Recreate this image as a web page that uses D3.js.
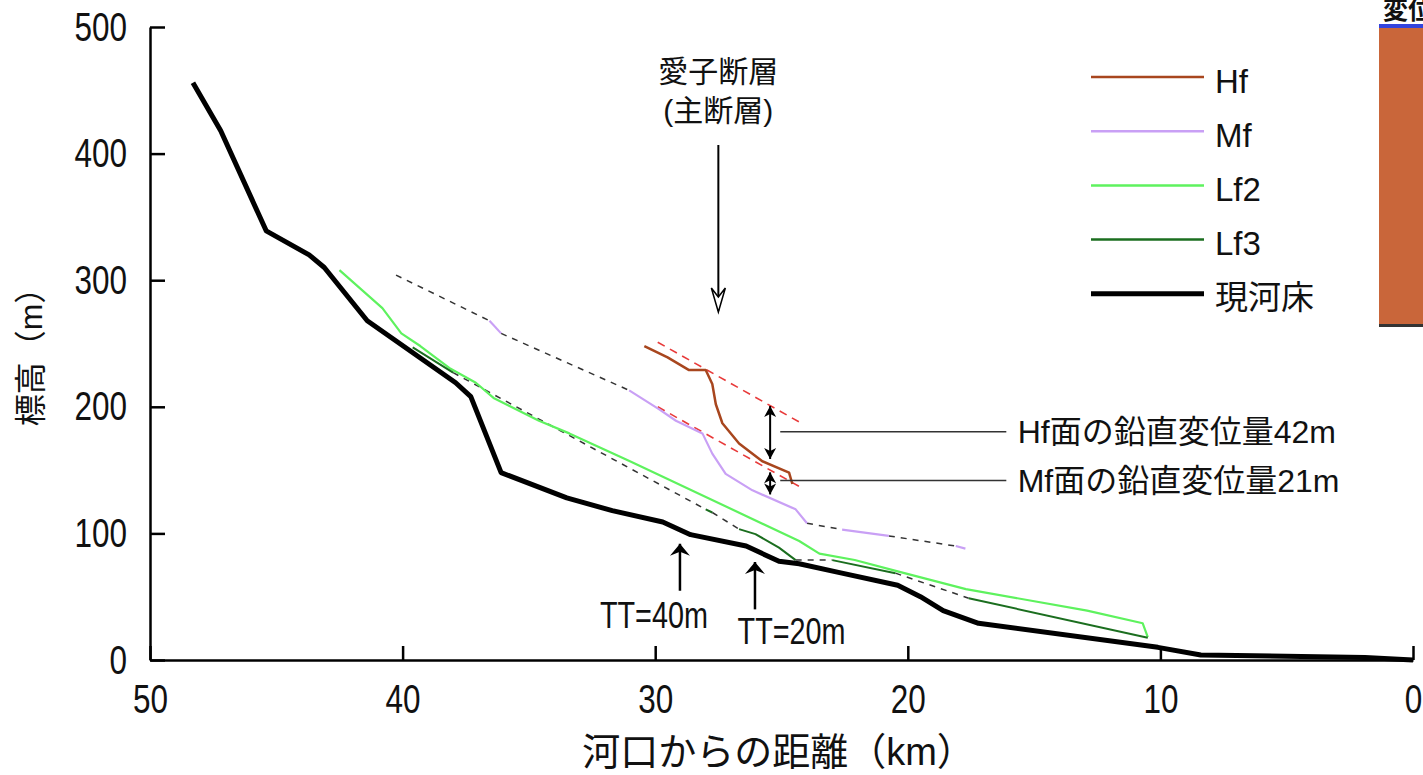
<!DOCTYPE html>
<html>
<head>
<meta charset="utf-8">
<script src="https://cdn.jsdelivr.net/npm/d3@7"></script>
<style>
  body { margin: 0; background: #fff; }
  .chart text { font-family: "Liberation Sans", "Noto Sans CJK JP", sans-serif; fill: #111; }
</style>
</head>
<body>
<div class="chart"></div>
<script>
// values: [distance from mouth (km), elevation (m)]
var riverBed = [[48.3,456],[47.2,418],[45.4,339],[43.7,320],[43.1,310],[41.4,268],[37.9,219],[37.3,208],
  [36.1,148],[33.5,128],[31.7,118],[29.7,109],[28.6,99],[26.4,90],[25.1,78],[24.3,76],[22.7,69],
  [20.4,59],[19.5,50],[18.6,39],[17.2,29],[10.1,10],[8.4,4],[1.9,2],[0,0]];

var lf2 = [[42.5,308],[40.8,278],[40.05,258],[39.3,248],[38.1,230],[37.1,219],[36.4,207],[34.6,189],
  [33.4,179],[31.0,157],[24.3,94],[23.5,84],[22.1,79],[20.4,70],[17.7,56],[12.9,39],[10.7,29],[10.5,18]];

var lf3Segments = [
  [[39.6,247],[38.0,227]],
  [[28.0,119],[27.74,116.5]],
  [[26.68,103.4],[26.03,99.4],[25.1,88.8],[24.44,78.9]],
  [[22.99,78.9],[20.49,68.6]],
  [[17.59,48.8],[10.5,17.6]]
];
var lf3Dashed = [
  [[38.0,227],[28.0,119]],
  [[27.74,116.5],[26.68,103.4]],
  [[24.44,78.9],[22.99,78.9]],
  [[20.49,68.6],[17.59,48.8]]
];

var mfSegments = [
  [[36.56,268],[36.1,258]],
  [[31.03,213],[29.84,198],[29.18,189],[28.13,179],[27.74,163],[27.21,147],[26.15,134],[24.44,119],[23.99,108]],
  [[22.6,103],[20.75,98]],
  [[18.1,90],[17.72,88]]
];
var mfDashed = [
  [[40.26,304],[36.56,268]],
  [[36.1,258],[31.03,213]],
  [[23.99,108],[22.6,103]],
  [[20.75,98],[18.1,90]]
];

var hf = [[30.43,248],[29.51,239],[28.66,229],[28.0,229],[27.74,218],[27.6,202],[27.34,187],
  [26.68,171],[25.76,157],[24.7,148],[24.57,139]];

// projected surfaces across the fault (red dashed)
var faultProjected = [
  [[29.9,251],[24.3,188]],
  [[29.9,200],[24.2,136]]
];

var xTicks = [50, 40, 30, 20, 10, 0];
var yTicks = [0, 100, 200, 300, 400, 500];

var legendLabels = ["Hf", "Mf", "Lf2", "Lf3", "現河床"];
var legendColors = ["#a8461e", "#c9a0f5", "#5ef25e", "#1b6e1f", "#000"];
var legendWidths = [2.5, 2.5, 2.5, 2.5, 5];

// chart setup
var svgWidth = 1423;
var svgHeight = 775;
var margin = { top: 27, left: 150 };
var width = 1263;
var height = 633;

var svg = d3.select(".chart").append("svg")
  .attr("width", svgWidth)
  .attr("height", svgHeight);

var defs = svg.append("defs");
defs.append("marker")
  .attr("id", "head")
  .attr("markerUnits", "userSpaceOnUse")
  .attr("viewBox", "-12 -7 14 14")
  .attr("markerWidth", 14).attr("markerHeight", 14)
  .attr("refX", 0).attr("refY", 0)
  .attr("orient", "auto-start-reverse")
  .append("path").attr("d", "M0,0 L-11,-6 L-8,0 L-11,6 Z").attr("fill", "#000");
defs.append("marker")
  .attr("id", "bighead")
  .attr("markerUnits", "userSpaceOnUse")
  .attr("viewBox", "-13 -11 15 22")
  .attr("markerWidth", 15).attr("markerHeight", 22)
  .attr("refX", 0).attr("refY", 0)
  .attr("orient", "auto")
  .append("path").attr("d", "M0,0 L-12,-10 L-8,0 L-12,10 Z").attr("fill", "#000");

var chart = svg.append("g").attr("transform", "translate(" + margin.left + "," + margin.top + ")");

var x = d3.scaleLinear().domain([50, 0]).range([0, width]);
var y = d3.scaleLinear().domain([0, 500]).range([height, 0]);

var line = d3.line().x(function(d) { return x(d[0]); }).y(function(d) { return y(d[1]); });

// right side partial panel (cut off in the source)
svg.append("text").attr("x", 1383).attr("y", 19)
  .style("font-size", "25px").style("font-weight", "bold").text("変位");
svg.append("rect").attr("x", 1379).attr("y", 28).attr("width", 44).attr("height", 298).attr("fill", "#c9663a");
svg.append("rect").attr("x", 1379).attr("y", 24).attr("width", 44).attr("height", 4).attr("fill", "#3344dd");
svg.append("rect").attr("x", 1379).attr("y", 324).attr("width", 44).attr("height", 3).attr("fill", "#333");

// axes
var bottomAxis = d3.axisBottom(x).tickValues(xTicks).tickSize(-14).tickSizeOuter(0).tickPadding(24);
var leftAxis = d3.axisLeft(y).tickValues(yTicks).tickSize(-15).tickSizeOuter(0).tickPadding(23);

var gx = chart.append("g").attr("transform", "translate(0," + height + ")").call(bottomAxis);
var gy = chart.append("g").call(leftAxis);

[gx, gy].forEach(function(g) {
  g.selectAll("path, line").attr("stroke", "#000").attr("stroke-width", 2.5);
  g.selectAll("text")
    .attr("font-family", null)
    .style("font-size", "41px")
    .attr("textLength", function(d) { return String(d).length * 17.5; })
    .attr("lengthAdjust", "spacingAndGlyphs");
});

// dashed connectors
mfDashed.concat(lf3Dashed).forEach(function(seg) {
  chart.append("path").attr("d", line(seg)).attr("fill", "none")
    .attr("stroke", "#333").attr("stroke-width", 1.5).attr("stroke-dasharray", "6,6");
});

faultProjected.forEach(function(seg) {
  chart.append("path").attr("d", line(seg)).attr("fill", "none")
    .attr("stroke", "#e83a3a").attr("stroke-width", 1.6).attr("stroke-dasharray", "8,6");
});

// terrace surfaces
chart.append("path").attr("d", line(lf2)).attr("fill", "none")
  .attr("stroke", legendColors[2]).attr("stroke-width", 2.2).attr("stroke-linejoin", "round");

lf3Segments.forEach(function(seg) {
  chart.append("path").attr("d", line(seg)).attr("fill", "none")
    .attr("stroke", legendColors[3]).attr("stroke-width", 2).attr("stroke-linejoin", "round");
});

mfSegments.forEach(function(seg) {
  chart.append("path").attr("d", line(seg)).attr("fill", "none")
    .attr("stroke", legendColors[1]).attr("stroke-width", 2.2).attr("stroke-linejoin", "round");
});

chart.append("path").attr("d", line(hf)).attr("fill", "none")
  .attr("stroke", legendColors[0]).attr("stroke-width", 2.5).attr("stroke-linejoin", "round");

chart.append("path").attr("d", line(riverBed)).attr("fill", "none")
  .attr("stroke", "#000").attr("stroke-width", 5).attr("stroke-linejoin", "round");

// vertical offsets across the fault
var offsets = [
  { km: 25.45, top: 201.4, bottom: 158, lead: 180.3, label: "Hf面の鉛直変位量42m" },
  { km: 25.45, top: 149, bottom: 130, lead: 141.8, label: "Mf面の鉛直変位量21m" }
];
offsets.forEach(function(o) {
  chart.append("line")
    .attr("x1", x(o.km)).attr("x2", x(o.km))
    .attr("y1", y(o.top) + 1).attr("y2", y(o.bottom) - 1)
    .attr("stroke", "#000").attr("stroke-width", 2)
    .attr("marker-start", "url(#head)").attr("marker-end", "url(#head)");
  chart.append("line")
    .attr("x1", x(25.05)).attr("x2", x(16.1))
    .attr("y1", y(o.lead)).attr("y2", y(o.lead))
    .attr("stroke", "#333").attr("stroke-width", 1.5);
  chart.append("text")
    .attr("x", x(15.65)).attr("y", y(o.lead)).attr("dy", "0.35em")
    .style("font-size", "32px").text(o.label);
});

// fault position
var faultKm = 27.5;
chart.append("line")
  .attr("x1", x(faultKm)).attr("x2", x(faultKm))
  .attr("y1", y(406.8)).attr("y2", y(276))
  .attr("stroke", "#000").attr("stroke-width", 2);
chart.append("path")
  .attr("transform", "translate(" + x(faultKm) + "," + y(274.9) + ")")
  .attr("d", "M-7,-24 L0,0 L7,-24 L0,-15 Z")
  .attr("fill", "#fff").attr("stroke", "#000").attr("stroke-width", 1.5);
chart.append("text").attr("x", x(faultKm)).attr("y", y(464.5)).attr("dy", "0.35em")
  .attr("text-anchor", "middle").style("font-size", "30px").text("愛子断層");
chart.append("text").attr("x", x(faultKm)).attr("y", y(434.4)).attr("dy", "0.35em")
  .attr("text-anchor", "middle").style("font-size", "30px").text("(主断層)");

// terrace-to-river height marks
var ttMarks = [
  { km: 29.02, tip: 93.4, base: 54.7, lx: 30.05, ly: 35.5, label: "TT=40m" },
  { km: 26.05, tip: 79, base: 40, lx: 24.6, ly: 23.3, label: "TT=20m" }
];
ttMarks.forEach(function(t) {
  chart.append("line")
    .attr("x1", x(t.km)).attr("x2", x(t.km))
    .attr("y1", y(t.base)).attr("y2", y(t.tip) + 2)
    .attr("stroke", "#000").attr("stroke-width", 2.5)
    .attr("marker-end", "url(#bighead)");
  chart.append("text").attr("x", x(t.lx)).attr("y", y(t.ly)).attr("dy", "0.36em")
    .attr("text-anchor", "middle").style("font-size", "37px")
    .attr("textLength", 108).attr("lengthAdjust", "spacingAndGlyphs")
    .text(t.label);
});

// legend
var legend = svg.append("g").attr("transform", "translate(1091,77)");
legendLabels.forEach(function(label, i) {
  var row = legend.append("g").attr("transform", "translate(0," + (i * 54.2) + ")");
  row.append("line").attr("x1", 0).attr("x2", 113).attr("y1", 0).attr("y2", 0)
    .attr("stroke", legendColors[i]).attr("stroke-width", legendWidths[i]);
  row.append("text").attr("x", 124).attr("y", 4).attr("dy", "0.35em")
    .style("font-size", "33px").text(label);
});

// axis titles
svg.append("text")
  .attr("x", margin.left + width / 2 - 3).attr("y", 752).attr("dy", "0.35em")
  .attr("text-anchor", "middle").style("font-size", "38px")
  .text("河口からの距離（km）");

svg.append("text")
  .attr("transform", "translate(31,349) rotate(-90)")
  .attr("dy", "0.35em")
  .attr("text-anchor", "middle").style("font-size", "32px")
  .text("標高（m）");
</script>
</body>
</html>
